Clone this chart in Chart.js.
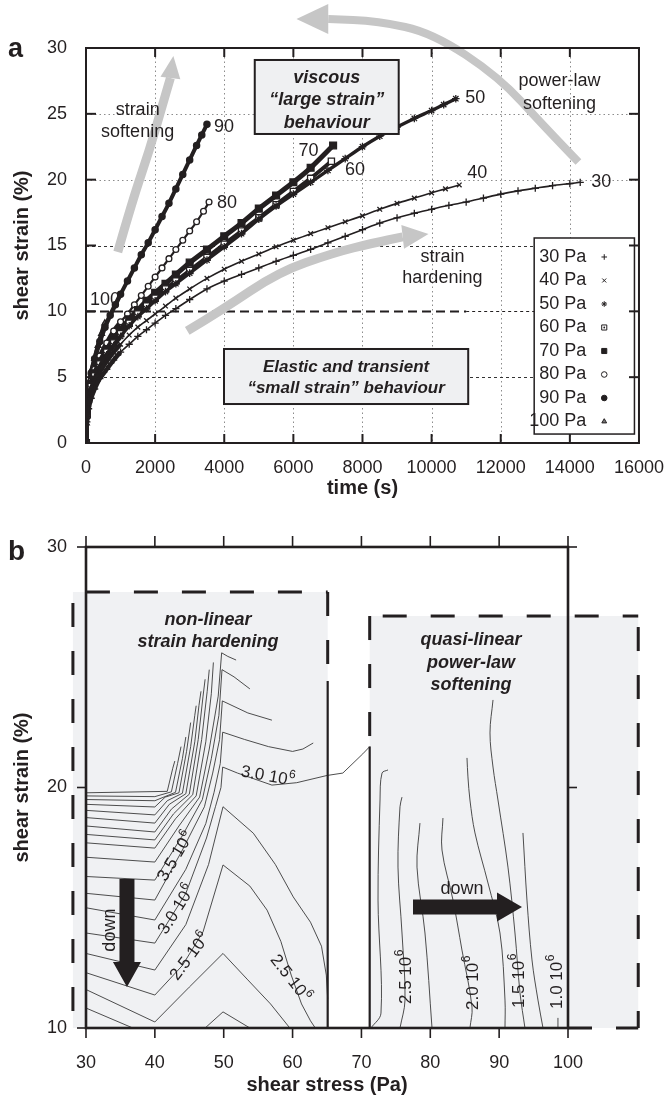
<!DOCTYPE html>
<html>
<head>
<meta charset="utf-8">
<title>Creep curves and strain-hardening map</title>
<script src="https://cdn.jsdelivr.net/npm/chart.js@4.4.1/dist/chart.umd.min.js"></script>
<style>
  html, body { margin:0; padding:0; background:#ffffff; }
  #page { position:relative; width:670px; height:1097px; overflow:hidden; background:#fff; }
  #creepChart { position:absolute; left:0; top:0; width:670px; height:500px; }
  #mapChart { position:absolute; left:0; top:500px; width:670px; height:597px; }
</style>
</head>
<body>
<div id="page">
  <canvas id="creepChart" width="670" height="500"></canvas>
  <canvas id="mapChart" width="670" height="597"></canvas>
</div>
<script>
const FONT = "'Liberation Sans', Arial, Helvetica, sans-serif";
const INK = '#231f20';
const ARROW_GREY = '#c6c6c6';
const SHADE = '#f0f1f3';

// ---------- Panel a: creep curves, time (s) vs shear strain (%) ----------
const stressLabels = ['30 Pa', '40 Pa', '50 Pa', '60 Pa', '70 Pa', '80 Pa', '90 Pa', '100 Pa'];
const curveTags = ['30', '40', '50', '60', '70', '80', '90', '100'];

const time30 = [0,25,75,150,250,400,600,800,1000,1250,1500,1750,2000,2300,2600,3000,3500,4000,4500,5000,5500,6000,6500,7000,7500,8000,8500,9000,9500,10000,10500,11000,11500,12000,12500,13000,13500,14000,14300];
const strain30 = [0,1.6,2.6,3.4,4.1,4.9,5.6,6.3,6.9,7.5,8.1,8.6,9.1,9.7,10.2,10.9,11.7,12.3,12.8,13.3,13.8,14.25,14.7,15.2,15.7,16.2,16.7,17.1,17.45,17.75,18.05,18.3,18.6,18.9,19.15,19.35,19.55,19.7,19.8];

const time40 = [0,25,75,150,250,400,600,800,1000,1250,1500,1750,2000,2300,2600,3000,3500,4000,4500,5000,5500,6000,6500,7000,7500,8000,8500,9000,9500,10000,10400,10800];
const strain40 = [0,1.8,2.9,3.8,4.6,5.4,6.2,6.9,7.5,8.2,8.8,9.3,9.8,10.4,11.0,11.7,12.5,13.2,13.8,14.35,14.9,15.4,15.9,16.35,16.8,17.25,17.75,18.2,18.6,19.0,19.3,19.6];

const time50 = [0,25,75,150,250,400,600,800,1000,1250,1500,1750,2000,2300,2600,3000,3500,4000,4500,5000,5500,6000,6500,7000,7500,8000,8500,9000,9500,10000,10350,10700];
const strain50 = [0,2.0,3.2,4.1,4.9,5.8,6.7,7.4,8.1,8.9,9.6,10.2,10.8,11.5,12.1,12.9,13.9,14.9,15.9,17.0,18.0,18.9,19.8,20.7,21.6,22.5,23.3,24.0,24.65,25.25,25.7,26.15];

const time60 = [0,25,75,150,250,400,600,800,1000,1250,1500,1750,2000,2300,2600,3000,3500,4000,4500,5000,5500,6000,6500,7100];
const strain60 = [0,2.1,3.3,4.3,5.1,6.0,6.9,7.6,8.3,9.1,9.8,10.4,11.0,11.7,12.3,13.1,14.1,15.1,16.1,17.1,18.1,19.1,20.1,21.4];

const time70 = [0,25,75,150,250,400,600,800,1000,1250,1500,1750,2000,2300,2600,3000,3500,4000,4500,5000,5500,6000,6500,7150];
const strain70 = [0,2.2,3.5,4.5,5.3,6.2,7.1,7.9,8.6,9.4,10.1,10.8,11.4,12.1,12.8,13.7,14.7,15.7,16.7,17.8,18.8,19.8,20.9,22.6];

const time80 = [0,25,75,150,250,400,600,800,1000,1200,1400,1600,1800,2000,2200,2400,2600,2800,3000,3200,3400,3560];
const strain80 = [0,2.3,3.6,4.7,5.6,6.6,7.6,8.5,9.2,9.8,10.5,11.2,11.9,12.6,13.3,14.0,14.7,15.4,16.1,16.8,17.6,18.3];

const time90 = [0,25,75,150,250,400,550,700,850,1000,1200,1400,1600,1800,2000,2200,2400,2600,2800,3000,3200,3350,3500];
const strain90 = [0,2.5,4.0,5.3,6.4,7.7,8.8,9.7,10.5,11.3,12.3,13.3,14.3,15.2,16.2,17.2,18.2,19.3,20.4,21.5,22.6,23.4,24.2];

const time100 = [0,10,25,50,100,175,250,350,450,545];
const strain100 = [0,1.5,2.5,3.4,4.5,5.6,6.4,7.4,8.3,9.1];

const timeTicks = [0,2000,4000,6000,8000,10000,12000,14000,16000];
const strainTicksA = [0,5,10,15,20,25,30];
const boundaryStrain = 10;

// ---------- Panel b: contour map, shear stress (Pa) vs shear strain (%) ----------
const stressTicks = [30,40,50,60,70,80,90,100];
const strainTicksB = [10,20,30];

// contours of the non-linear strain-hardening region, [stress, strain] pairs
const hardeningContours = [
  [[30,10.83],[36.8,10.0]],
  [[47.3,10.0],[49.9,10.67],[53.8,10.0]],
  [[30,11.6],[40,10.25],[45,11.7],[49.9,13.1],[53.5,12.0],[56.8,11.0],[59.6,10.0]],
  [[30,12.3],[40,11.37],[44,12.6],[47,14.0],[49.9,16.78],[53.8,15.9],[56.3,14.9],[58.3,13.6],[59.8,12.2],[61.3,11.0],[62.6,10.3],[63.3,10.0]],
  [[30,13.1],[40,12.41],[44.5,14.3],[47.8,16.8],[49.9,19.2],[54.3,18.1],[57.5,16.8],[60.1,15.45],[62.6,14.4],[64.2,13.4],[64.9,12.2],[65.1,11.2]],
  [[30,13.95],[40,13.53],[44.5,15.6],[47.5,17.9],[48.8,19.2],[49.6,20.0],[49.85,20.85],[52,20.6],[55,20.3],[57,20.1],[60.6,20.2],[65.0,20.5],[67.3,20.6],[70.2,21.4],[71.2,21.7]],
  [[30,15.0],[40,14.49],[44.5,16.6],[47.4,18.5],[48.6,19.8],[49.5,21.0],[49.85,22.3],[53,22.0],[56.5,21.7],[60.0,21.5],[61.5,21.6],[63.0,21.85]],
  [[30,15.6],[40,15.32],[44,17.4],[47.2,19.2],[48.4,20.6],[49.4,22.0],[49.8,23.6],[53.5,23.1],[57.0,22.8]],
  [[30,16.3],[40,16.15],[44,18.0],[46.9,19.5],[48.2,21.2],[49.3,23.0],[49.75,24.9],[51.5,24.6],[53.8,24.1]],
  [[30,17.1],[40,16.9],[43.5,18.4],[46.5,19.6],[47.9,21.6],[49.2,23.8],[49.7,25.6],[50.6,25.45],[51.8,25.3]],
  [[30,17.7],[40,17.48],[43,18.7],[46.0,19.65],[47.4,21.9],[48.2,23.9],[48.5,25.2]],
  [[30,18.05],[40,17.82],[42.7,18.9],[45.5,19.7],[46.8,22.0],[47.6,24.0],[47.9,24.9]],
  [[30,18.4],[40,18.15],[42.4,19.1],[45.0,19.72],[46.3,22.0],[47.0,23.8],[47.3,24.5]],
  [[30,18.75],[40,18.52],[42.1,19.3],[44.5,19.74],[45.8,21.9],[46.4,23.4],[46.7,24.0]],
  [[30,19.05],[40,18.86],[41.8,19.45],[44.0,19.76],[45.2,21.7],[45.8,23.0],[46.0,23.4]],
  [[30,19.3],[40,19.19],[41.5,19.6],[43.5,19.78],[44.6,21.5],[45.2,22.7]],
  [[30,19.5],[40,19.45],[43.0,19.8],[44.0,21.2],[44.5,22.1]],
  [[30,19.65],[40,19.62],[42.4,19.82],[43.3,21.0],[43.8,21.7]],
  [[30,19.78],[41.8,19.84],[42.6,20.8],[42.9,21.1]]
];

// contours of the quasi-linear power-law softening region
const softeningContours = [
  [[73.86,20.73],[72.99,20.60],[72.70,19.48],[72.41,15.32],[72.84,10.62],[71.39,10.0]],
  [[75.89,19.60],[75.6,19.2],[75.31,16.69],[75.89,13.95],[76.33,11.16],[75.6,10.0]],
  [[78.5,18.52],[78.07,16.69],[79.23,13.95],[80.25,10.0]],
  [[81.84,18.73],[81.7,17.40],[83.3,15.32],[84.6,13.24],[86.06,10.87],[85.76,10.0]],
  [[85.33,21.23],[85.47,20.44],[85.76,19.48],[86.49,18.11],[88.38,16.03],[90.12,13.95],[90.85,11.16],[90.85,10.0]],
  [[89.11,23.64],[88.67,22.27],[89.11,20.85],[89.83,19.48],[91.28,16.69],[92.30,13.95],[93.03,11.46],[93.75,10.0]],
  [[93.46,18.11],[94.04,15.32],[94.77,12.83],[95.64,11.16],[96.37,10.0]],
  [[98.54,10.42],[98.54,10.0]]
];

// contour levels written on the map, in units of 10^6
const labelLevels = [3.0, 3.5, 3.0, 2.5, 2.5, 2.5, 2.0, 1.5, 1.0];

// ---------- shared helpers ----------
function seg(ctx, x0, y0, x1, y1) { ctx.beginPath(); ctx.moveTo(x0, y0); ctx.lineTo(x1, y1); ctx.stroke(); }

function smoothPath(ctx, pts) {
  ctx.moveTo(pts[0][0], pts[0][1]);
  for (let i = 1; i < pts.length - 1; i++) {
    const mx = (pts[i][0] + pts[i + 1][0]) / 2, my = (pts[i][1] + pts[i + 1][1]) / 2;
    ctx.quadraticCurveTo(pts[i][0], pts[i][1], mx, my);
  }
  const l = pts[pts.length - 1];
  ctx.lineTo(l[0], l[1]);
}

function curvedArrow(ctx, pts, tip, width, head, colour) {
  ctx.save();
  ctx.strokeStyle = colour; ctx.lineWidth = width; ctx.lineCap = 'butt'; ctx.lineJoin = 'round';
  ctx.setLineDash([]);
  ctx.beginPath(); smoothPath(ctx, pts); ctx.stroke();
  const b = pts[pts.length - 1];
  const dx = tip[0] - b[0], dy = tip[1] - b[1], L = Math.hypot(dx, dy);
  const nx = -dy / L, ny = dx / L;
  ctx.fillStyle = colour;
  ctx.beginPath();
  ctx.moveTo(tip[0], tip[1]);
  ctx.lineTo(b[0] + nx * head, b[1] + ny * head);
  ctx.lineTo(b[0] - nx * head, b[1] - ny * head);
  ctx.closePath(); ctx.fill();
  ctx.restore();
}

function drawMarker(ctx, look, x, y, radius) {
  ctx.save();
  ctx.strokeStyle = INK; ctx.fillStyle = look.fill; ctx.lineWidth = 1;
  const opts = { pointStyle: look.pointStyle, radius: radius, borderWidth: 1, rotation: 0 };
  if (Chart.helpers && Chart.helpers.drawPoint) {
    Chart.helpers.drawPoint(ctx, opts, x, y);
  } else {
    ctx.beginPath(); ctx.arc(x, y, radius, 0, Math.PI * 2); ctx.fill(); ctx.stroke();
  }
  if (look.dot) { ctx.fillStyle = INK; ctx.beginPath(); ctx.arc(x, y, 0.9, 0, Math.PI * 2); ctx.fill(); }
  ctx.restore();
}

// ---------- panel a ----------
const markerLook = [
  { pointStyle: 'cross',    radius: 3.6, fill: INK,     line: 1.6 },
  { pointStyle: 'crossRot', radius: 3.3, fill: INK,     line: 1.6 },
  { pointStyle: 'star',     radius: 3.8, fill: INK,     line: 3.4 },
  { pointStyle: 'rect',     radius: 4.4, fill: '#ffffff', line: 4.0, dot: true },
  { pointStyle: 'rect',     radius: 4.8, fill: INK,     line: 5.0 },
  { pointStyle: 'circle',   radius: 2.9, fill: '#ffffff', line: 2.2 },
  { pointStyle: 'circle',   radius: 3.1, fill: INK,     line: 4.0 },
  { pointStyle: 'triangle', radius: 3.4, fill: '#7a7a7a', line: 3.6 }
];
const seriesTimes = [time30, time40, time50, time60, time70, time80, time90, time100];
const seriesStrains = [strain30, strain40, strain50, strain60, strain70, strain80, strain90, strain100];
// the early, densely sampled part of every curve merges into a heavy band
const earlyBandEnd = 1000;

const creepDatasets = stressLabels.map((label, i) => ({
  label,
  data: seriesTimes[i].map((t, k) => ({ x: t, y: seriesStrains[i][k] })),
  showLine: true,
  borderColor: INK,
  borderWidth: markerLook[i].line,
  segment: { borderWidth: c => (c.p0.parsed.x < earlyBandEnd ? Math.max(markerLook[i].line, 4.5) : markerLook[i].line) },
  tension: 0.2,
  pointStyle: markerLook[i].pointStyle,
  pointRadius: markerLook[i].radius,
  pointBackgroundColor: markerLook[i].fill,
  pointBorderColor: INK,
  pointBorderWidth: 1.3
}));

// annotation placement, in axis units (time s, strain %)
const creepNotes = {
  boxes: [
    { t0: 4883, t1: 9048, s0: 23.47, s1: 29.09, size: 18,
      lines: [['viscous', 27.72], ['\u201Clarge strain\u201D', 26.05], ['behaviour', 24.30]] },
    { t0: 3993, t1: 11059, s0: 2.96, s1: 7.14, size: 17,
      lines: [['Elastic and transient', 5.77], ['\u201Csmall strain\u201D behaviour', 4.18]] }
  ],
  texts: [
    ['strain', 1494, 25.29], ['softening', 1494, 23.62],
    ['power-law', 13702, 27.49], ['softening', 13702, 25.75],
    ['strain', 10312, 14.13], ['hardening', 10312, 12.53]
  ],
  tags: [[14621, 19.82], [11030, 20.51], [10973, 26.2], [7497, 20.73], [6147, 22.18], [3792, 18.23], [3706, 24.0], [115, 10.86]],
  arrows: [
    { pts: [[919,14.51],[1350,18.46],[1838,22.25],[2212,25.67],[2442,27.72]], tip: [2528,29.39], width: 9, head: 10 },
    { pts: [[14248,21.34],[13271,24.0],[11950,27.8],[10025,31.14],[8445,32.05],[7009,32.2]], tip: [6090,32.2], width: 8, head: 15 },
    { pts: [[2930,8.51],[3935,10.10],[5573,12.99],[7153,14.43],[8302,15.19],[9163,15.65]], tip: [9910,15.87], width: 9, head: 12 }
  ],
  boundaryEnd: 11000,
  legend: { t0: 12968, t1: 15869, s0: 0.68, s1: 15.57, textT: 14477, markT: 14995 }
};

const creepDecor = {
  id: 'creepDecor',
  beforeDatasetsDraw(chart) {
    const { ctx, chartArea: a, scales: { x, y } } = chart;
    ctx.save();
    ctx.lineWidth = 1; ctx.strokeStyle = '#8c8c8c'; ctx.setLineDash([1.5, 3]);
    timeTicks.forEach(v => {
      if (v <= x.min || v >= x.max) return;
      const p = Math.round(x.getPixelForValue(v)) + 0.5;
      seg(ctx, p, a.top, p, a.bottom);
    });
    strainTicksA.forEach(v => {
      if (v <= y.min || v >= y.max) return;
      const p = Math.round(y.getPixelForValue(v)) + 0.5;
      if (v === boundaryStrain) {
        const xe = x.getPixelForValue(creepNotes.boundaryEnd);
        ctx.strokeStyle = INK; ctx.lineWidth = 2; ctx.setLineDash([9, 5]);
        seg(ctx, a.left, p, xe, p);
        ctx.lineWidth = 1; ctx.setLineDash([3, 3]);
        seg(ctx, xe, p, a.right, p);
      } else if (v < 2 * boundaryStrain) {
        ctx.strokeStyle = '#333'; ctx.lineWidth = 1; ctx.setLineDash([3, 3]);
        seg(ctx, a.left, p, a.right, p);
      } else {
        ctx.strokeStyle = '#8c8c8c'; ctx.lineWidth = 1; ctx.setLineDash([1.5, 3]);
        seg(ctx, a.left, p, a.right, p);
      }
    });
    ctx.restore();
    creepNotes.arrows.forEach(ar => {
      curvedArrow(ctx, ar.pts.map(q => [x.getPixelForValue(q[0]), y.getPixelForValue(q[1])]),
        [x.getPixelForValue(ar.tip[0]), y.getPixelForValue(ar.tip[1])], ar.width, ar.head, ARROW_GREY);
    });
  },
  afterDatasetsDraw(chart) {
    const { ctx, chartArea: a, scales: { x, y } } = chart;
    ctx.save();
    ctx.setLineDash([]);
    // framed notes
    creepNotes.boxes.forEach(b => {
      const x0 = x.getPixelForValue(b.t0), x1 = x.getPixelForValue(b.t1);
      const y0 = y.getPixelForValue(b.s1), y1 = y.getPixelForValue(b.s0);
      ctx.fillStyle = '#eff0f2'; ctx.fillRect(x0, y0, x1 - x0, y1 - y0);
      ctx.lineWidth = 2; ctx.strokeStyle = INK; ctx.strokeRect(x0, y0, x1 - x0, y1 - y0);
      ctx.fillStyle = INK; ctx.font = `italic bold ${b.size}px ${FONT}`;
      ctx.textAlign = 'center'; ctx.textBaseline = 'middle';
      b.lines.forEach(([txt, s]) => ctx.fillText(txt, (x0 + x1) / 2, y.getPixelForValue(s)));
    });
    // free text
    ctx.fillStyle = INK; ctx.font = `18px ${FONT}`; ctx.textAlign = 'center'; ctx.textBaseline = 'middle';
    creepNotes.texts.forEach(([txt, t, s]) => ctx.fillText(txt, x.getPixelForValue(t), y.getPixelForValue(s)));
    // stress tags at the curve ends
    ctx.textAlign = 'left';
    curveTags.forEach((tag, i) => {
      const p = creepNotes.tags[i];
      ctx.fillText(tag, x.getPixelForValue(p[0]), y.getPixelForValue(p[1]));
    });
    // legend
    const L = creepNotes.legend;
    const lx0 = x.getPixelForValue(L.t0), lx1 = x.getPixelForValue(L.t1);
    const ly0 = y.getPixelForValue(L.s1), ly1 = y.getPixelForValue(L.s0);
    ctx.fillStyle = '#ffffff'; ctx.fillRect(lx0, ly0, lx1 - lx0, ly1 - ly0);
    ctx.lineWidth = 1.5; ctx.strokeStyle = INK; ctx.strokeRect(lx0, ly0, lx1 - lx0, ly1 - ly0);
    const tx = x.getPixelForValue(L.textT), mx = x.getPixelForValue(L.markT);
    ctx.font = `18px ${FONT}`; ctx.textAlign = 'right'; ctx.textBaseline = 'middle';
    stressLabels.forEach((lab, i) => {
      const ry = ly0 + 19 + i * 23.5;
      ctx.fillStyle = INK; ctx.fillText(lab, tx, ry);
      drawMarker(ctx, markerLook[i], mx, ry, markerLook[i].pointStyle === 'rect' ? 3.6 : 2.8);
    });
    // frame and inward ticks
    ctx.strokeStyle = INK; ctx.lineWidth = 2;
    ctx.strokeRect(a.left, a.top, a.right - a.left, a.bottom - a.top);
    timeTicks.forEach(v => {
      const p = x.getPixelForValue(v);
      seg(ctx, p, a.bottom, p, a.bottom - 9);
      seg(ctx, p, a.top, p, a.top + 9);
    });
    strainTicksA.forEach(v => {
      const p = y.getPixelForValue(v);
      seg(ctx, a.left, p, a.left + 10, p);
      seg(ctx, a.right, p, a.right - 10, p);
    });
    ctx.fillStyle = INK; ctx.font = `bold 27px ${FONT}`; ctx.textAlign = 'left'; ctx.textBaseline = 'alphabetic';
    ctx.fillText('a', 8, a.top + 9);
    ctx.restore();
  }
};

new Chart(document.getElementById('creepChart'), {
  type: 'scatter',
  data: { datasets: creepDatasets },
  options: {
    responsive: false, animation: false, events: [], devicePixelRatio: 1,
    layout: { padding: { top: 48, right: 27, left: 0, bottom: 0 } },
    plugins: { legend: { display: false }, tooltip: { enabled: false } },
    scales: {
      x: {
        type: 'linear', min: 0, max: 16000,
        ticks: { stepSize: 2000, autoSkip: false, maxRotation: 0, padding: 6, color: INK, font: { family: FONT, size: 18 },
                 callback: v => String(v) },
        grid: { display: false }, border: { display: false },
        title: { display: true, text: 'time (s)', color: INK, font: { family: FONT, size: 20, weight: 'bold' }, padding: { top: 0, bottom: 0 } },
        afterFit(s) { s.height = 57; }
      },
      y: {
        type: 'linear', min: 0, max: 30,
        ticks: { stepSize: 5, padding: 11, color: INK, font: { family: FONT, size: 18 }, callback: v => String(v) },
        grid: { display: false }, border: { display: false },
        title: { display: true, text: 'shear strain (%)', color: INK, font: { family: FONT, size: 20, weight: 'bold' }, padding: { top: 10, bottom: 0 } },
        afterFit(s) { s.width = 86; }
      }
    }
  },
  plugins: [creepDecor]
});

// ---------- panel b ----------
const regionBoxes = [
  { x0: 28.1, x1: 65.1, yTop: 28.13, yBottom: 10, solidFrom: 24.43, solidSide: 'right' },
  { x0: 71.2, x1: 110.2, yTop: 27.13, yBottom: 10, solidFrom: 21.7, solidSide: 'left' }
];

const mapNotes = {
  tagSpots: [
    { x: 56.36, y: 20.46, angle: 10 },
    { x: 43.03, y: 17.12, angle: -59 },
    { x: 43.17, y: 14.91, angle: -58 },
    { x: 45.10, y: 12.96, angle: -53 },
    { x: 59.63, y: 12.07, angle: 52 },
    { x: 76.47, y: 12.12, angle: -90 },
    { x: 86.20, y: 11.87, angle: -90 },
    { x: 92.88, y: 11.95, angle: -90 },
    { x: 98.40, y: 11.91, angle: -90 }
  ],
  titles: [
    ['non-linear', 47.72, 26.96], ['strain hardening', 47.72, 26.05],
    ['quasi-linear', 85.91, 26.13], ['power-law', 85.91, 25.18], ['softening', 85.91, 24.26]
  ],
  downArrow: { x: 35.95, from: 16.2, base: 12.74, tip: 11.7 },
  rightArrow: { y: 15.03, from: 77.49, base: 89.69, tip: 93.32 },
  downWords: [{ x: 33.5, y: 14.07, angle: -90 }, { x: 84.6, y: 15.78, angle: 0 }]
};

function contourTag(ctx, x, y, angleDeg, level) {
  const base = level.toFixed(1) + ' 10', sup = '6';
  ctx.save();
  ctx.translate(x, y); ctx.rotate(angleDeg * Math.PI / 180);
  ctx.font = `17px ${FONT}`; const wb = ctx.measureText(base).width;
  ctx.font = `12px ${FONT}`; const ws = ctx.measureText(sup).width;
  const w = wb + ws;
  ctx.textAlign = 'left'; ctx.textBaseline = 'middle'; ctx.fillStyle = INK;
  ctx.font = `17px ${FONT}`; ctx.fillText(base, -w / 2, 0);
  ctx.font = `12px ${FONT}`; ctx.fillText(sup, -w / 2 + wb + 0.5, -6);
  ctx.restore();
}

const contourStyle = { colour: '#3a3a3a', width: 0.9 };
const mapDatasets = [
  ...hardeningContours.map(c => ({
    data: c.map(([sx, sy]) => ({ x: sx, y: sy })), showLine: true,
    borderColor: contourStyle.colour, borderWidth: contourStyle.width, pointRadius: 0, tension: 0
  })),
  ...softeningContours.map(c => ({
    data: c.map(([sx, sy]) => ({ x: sx, y: sy })), showLine: true,
    borderColor: contourStyle.colour, borderWidth: contourStyle.width, pointRadius: 0, tension: 0.35
  }))
];

const mapDecor = {
  id: 'mapDecor',
  beforeDraw(chart) {
    const { ctx, scales: { x, y } } = chart;
    ctx.save();
    ctx.fillStyle = SHADE;
    regionBoxes.forEach(r => {
      const x0 = x.getPixelForValue(r.x0), x1 = x.getPixelForValue(r.x1);
      const y0 = y.getPixelForValue(r.yTop), y1 = y.getPixelForValue(r.yBottom);
      ctx.fillRect(x0, y0, x1 - x0, y1 - y0);
    });
    ctx.restore();
  },
  afterDatasetsDraw(chart) {
    const { ctx, chartArea: a, scales: { x, y } } = chart;
    const X = v => x.getPixelForValue(v), Y = v => y.getPixelForValue(v);
    ctx.save();
    // dashed outlines of the two regions, solid where they meet the data
    ctx.strokeStyle = INK; ctx.lineWidth = 3; ctx.setLineDash([24, 24]);
    regionBoxes.forEach(r => {
      const x0 = X(r.x0), x1 = X(r.x1), yt = Y(r.yTop), yb = Y(r.yBottom), ys = Y(r.solidFrom);
      ctx.setLineDash([24, 24]); ctx.lineWidth = 3;
      seg(ctx, x0 + 13, yt, x1, yt);
      if (r.solidSide === 'right') {
        seg(ctx, x0, yt + 11, x0, yb - 6);
        seg(ctx, x1, yt, x1, ys);
        ctx.setLineDash([]); ctx.lineWidth = 2.2; seg(ctx, x1, ys, x1, yb);
      } else {
        seg(ctx, x1, yt + 11, x1, yb);
        seg(ctx, X(100), yb, x1, yb);
        seg(ctx, x0, yt, x0, ys);
        ctx.setLineDash([]); ctx.lineWidth = 2.2; seg(ctx, x0, ys, x0, yb);
      }
    });
    // frame
    ctx.setLineDash([]); ctx.lineWidth = 2.6; ctx.strokeStyle = INK;
    ctx.strokeRect(a.left, a.top, a.right - a.left, a.bottom - a.top);
    // outward ticks
    ctx.lineWidth = 1.6;
    stressTicks.forEach(v => {
      const p = X(v);
      seg(ctx, p, a.top, p, a.top - 11);
      seg(ctx, p, a.bottom, p, a.bottom + 10);
    });
    strainTicksB.forEach(v => {
      const p = Y(v);
      seg(ctx, a.left, p, a.left - 9, p);
      seg(ctx, a.right, p, a.right + 9, p);
    });
    // contour level tags
    mapNotes.tagSpots.forEach((s, i) => contourTag(ctx, X(s.x), Y(s.y), s.angle, labelLevels[i]));
    // region titles
    ctx.fillStyle = INK; ctx.font = `italic bold 18px ${FONT}`; ctx.textAlign = 'center'; ctx.textBaseline = 'middle';
    mapNotes.titles.forEach(([txt, tx, ty]) => ctx.fillText(txt, X(tx), Y(ty)));
    // direction arrows
    const d = mapNotes.downArrow, cx = X(d.x), yt = Y(d.from), ybase = Y(d.base), ytip = Y(d.tip);
    ctx.fillStyle = INK;
    ctx.beginPath();
    ctx.moveTo(cx - 7.5, yt); ctx.lineTo(cx + 7.5, yt); ctx.lineTo(cx + 7.5, ybase); ctx.lineTo(cx + 14, ybase);
    ctx.lineTo(cx, ytip); ctx.lineTo(cx - 14, ybase); ctx.lineTo(cx - 7.5, ybase); ctx.closePath(); ctx.fill();
    const r = mapNotes.rightArrow, cy = Y(r.y), xf = X(r.from), xb = X(r.base), xt = X(r.tip);
    ctx.beginPath();
    ctx.moveTo(xf, cy - 7.5); ctx.lineTo(xb, cy - 7.5); ctx.lineTo(xb, cy - 14.5); ctx.lineTo(xt, cy);
    ctx.lineTo(xb, cy + 14.5); ctx.lineTo(xb, cy + 7.5); ctx.lineTo(xf, cy + 7.5); ctx.closePath(); ctx.fill();
    ctx.font = `18px ${FONT}`;
    mapNotes.downWords.forEach(w => {
      ctx.save(); ctx.translate(X(w.x), Y(w.y)); ctx.rotate(w.angle * Math.PI / 180);
      ctx.fillText('down', 0, 0); ctx.restore();
    });
    ctx.fillStyle = INK; ctx.font = `bold 28px ${FONT}`; ctx.textAlign = 'left'; ctx.textBaseline = 'alphabetic';
    ctx.fillText('b', 8, a.top + 13);
    ctx.restore();
  }
};

new Chart(document.getElementById('mapChart'), {
  type: 'scatter',
  data: { datasets: mapDatasets },
  options: {
    responsive: false, animation: false, events: [], devicePixelRatio: 1,
    layout: { padding: { top: 47, right: 102, left: 0, bottom: 0 } },
    plugins: { legend: { display: false }, tooltip: { enabled: false } },
    scales: {
      x: {
        type: 'linear', min: 30, max: 100,
        ticks: { stepSize: 10, autoSkip: false, maxRotation: 0, padding: 16, color: INK, font: { family: FONT, size: 18 },
                 callback: v => String(v) },
        grid: { display: false }, border: { display: false },
        title: { display: true, text: 'shear stress (Pa)', color: INK, font: { family: FONT, size: 20, weight: 'bold' }, padding: { top: 0, bottom: 0 } },
        afterFit(s) { s.height = 69; }
      },
      y: {
        type: 'linear', min: 10, max: 30,
        ticks: { stepSize: 10, padding: 11, color: INK, font: { family: FONT, size: 18 }, callback: v => String(v) },
        grid: { display: false }, border: { display: false },
        title: { display: true, text: 'shear strain (%)', color: INK, font: { family: FONT, size: 20, weight: 'bold' }, padding: { top: 10, bottom: 0 } },
        afterFit(s) { s.width = 86; }
      }
    }
  },
  plugins: [mapDecor]
});
</script>
</body>
</html>
